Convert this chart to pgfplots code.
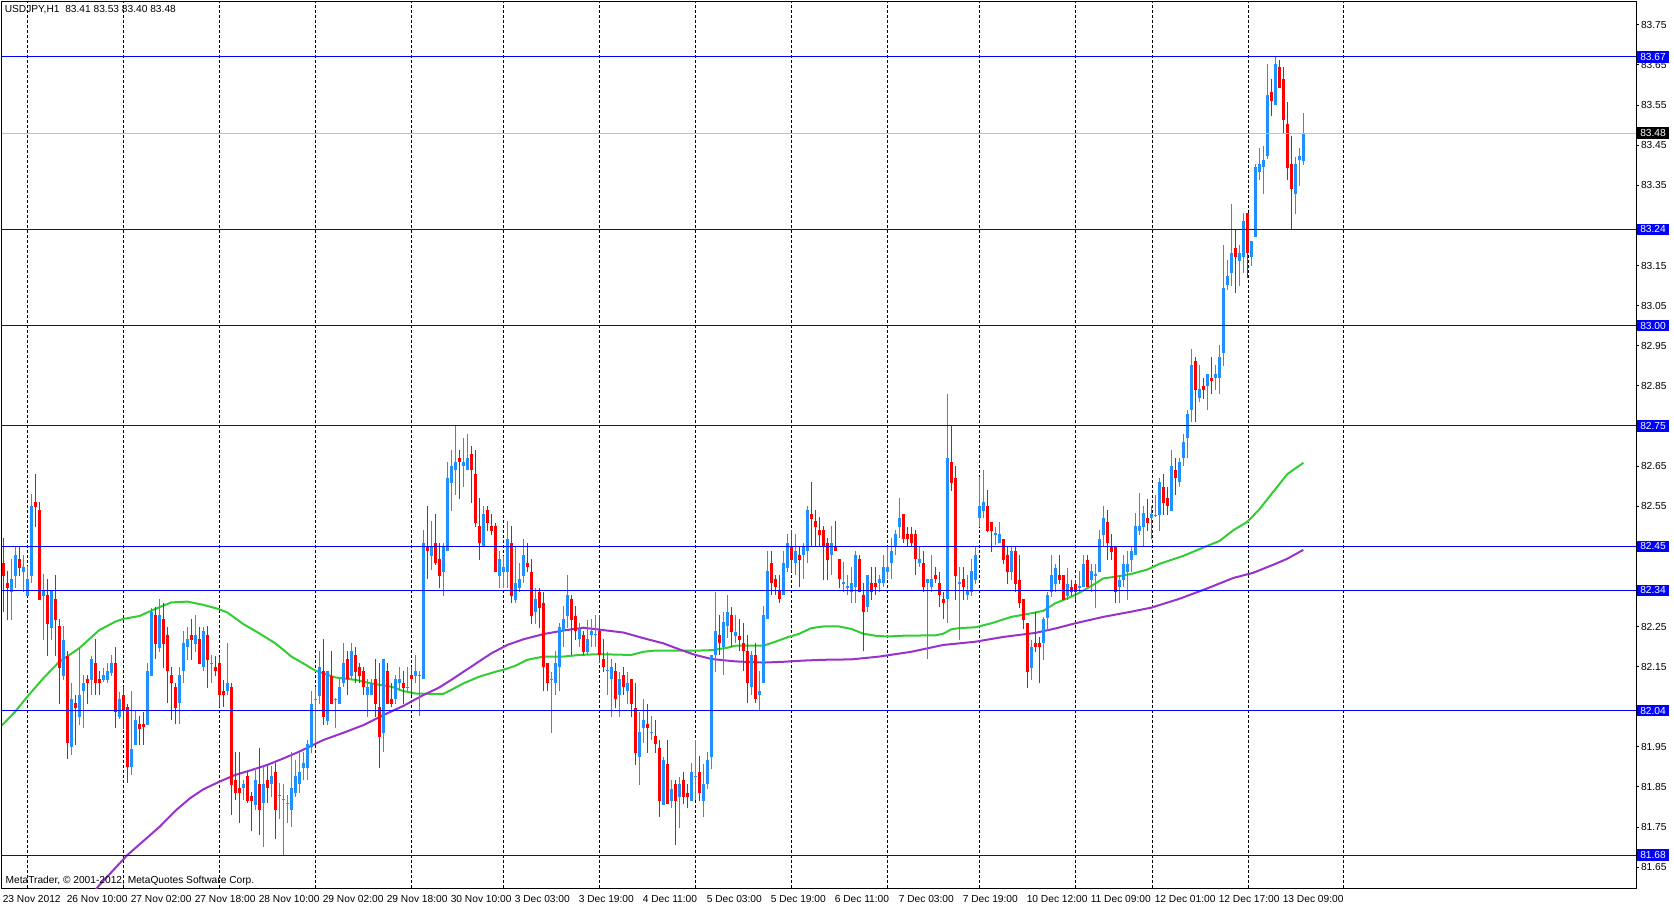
\documentclass[border=0pt]{standalone}
\usepackage{pgfplots}
\usepackage{pgfplotstable}
\pgfplotsset{compat=1.18}
\usepackage{fontspec}
\setmainfont{Liberation Sans}
\definecolor{upc}{RGB}{30,144,255}
\definecolor{dnc}{RGB}{255,0,0}
\definecolor{lineblue}{RGB}{0,0,255}
\definecolor{magreen}{RGB}{50,205,50}
\definecolor{mapurple}{RGB}{153,50,204}
\definecolor{pricegray}{RGB}{192,192,192}
\newcommand{\mtfont}{\fontsize{5.1}{6}\selectfont}

% bullish candles: bar index, open, high, low, close
\pgfplotstableread{
k o h l c
2 82.337 82.418 82.266 82.368
3 82.377 82.449 82.347 82.428
5 82.387 82.428 82.337 82.398
6 82.327 82.401 82.327 82.368
7 82.377 82.58 82.358 82.55
10 82.327 82.38 82.216 82.339
12 82.247 82.339 82.216 82.339
15 82.127 82.25 82.117 82.216
17 81.95 82.108 81.93 82.069
19 82.025 82.196 82.004 82.079
20 82.088 82.129 81.996 82.109
22 82.117 82.177 82.078 82.169
25 82.117 82.147 82.111 82.129
26 82.117 82.158 82.108 82.14
27 82.135 82.179 82.127 82.16
29 82.025 82.087 82.019 82.069
32 81.90 82.089 81.88 81.945
33 81.955 82.039 81.955 82.017
36 82.004 82.159 82.004 82.139
37 82.127 82.297 82.127 82.287
39 82.196 82.319 82.187 82.279
44 82.059 82.15 82.007 82.129
45 82.138 82.24 82.108 82.21
46 82.2 82.248 82.167 82.219
48 82.207 82.279 82.187 82.229
50 82.148 82.248 82.138 82.239
52 82.156 82.179 82.108 82.159
56 82.088 82.208 82.08 82.109
60 81.847 81.867 81.818 81.857
63 81.805 81.896 81.793 81.867
65 81.809 81.901 81.70 81.857
67 81.857 81.901 81.826 81.877
69 81.827 81.859 81.77 81.830
70 81.817 81.857 81.68 81.820
71 81.807 81.83 81.76 81.810
72 81.793 81.938 81.75 81.848
73 81.836 81.917 81.826 81.877
74 81.857 81.934 81.836 81.888
75 81.897 81.938 81.867 81.909
76 81.897 81.967 81.867 81.957
77 81.949 82.089 81.934 82.058
78 82.066 82.1 81.959 82.069
79 82.077 82.19 82.058 82.15
81 82.015 82.139 82.004 82.139
83 82.067 82.071 81.996 82.070
84 82.058 82.118 82.058 82.1
85 82.108 82.21 82.098 82.158
87 82.127 82.21 82.118 82.19
91 82.078 82.118 82.025 82.098
92 82.078 82.118 82.078 82.108
95 81.985 82.169 81.938 82.169
98 82.068 82.129 82.057 82.118
99 82.108 82.15 82.088 82.118
101 82.097 82.15 82.088 82.100
103 82.127 82.179 82.108 82.139
104 82.126 82.139 82.027 82.129
105 82.118 82.491 82.118 82.458
107 82.427 82.512 82.391 82.449
110 82.387 82.459 82.327 82.449
111 82.437 82.661 82.437 82.62
112 82.609 82.69 82.538 82.65
113 82.639 82.75 82.578 82.661
115 82.649 82.721 82.599 82.661
116 82.639 82.73 82.639 82.671
120 82.448 82.551 82.448 82.531
124 82.377 82.437 82.347 82.418
125 82.387 82.427 82.347 82.398
126 82.387 82.512 82.347 82.468
128 82.316 82.449 82.308 82.358
129 82.347 82.408 82.337 82.368
130 82.377 82.468 82.358 82.428
133 82.287 82.347 82.256 82.318
137 82.117 82.137 81.985 82.120
138 82.108 82.19 82.078 82.158
139 82.148 82.258 82.088 82.248
140 82.24 82.3 82.2 82.268
141 82.277 82.379 82.246 82.329
144 82.22 82.258 82.2 82.245
146 82.187 82.266 82.179 82.218
147 82.229 82.268 82.2 82.24
148 82.228 82.279 82.2 82.231
151 82.138 82.187 82.079 82.141
152 82.118 82.168 82.025 82.148
154 82.079 82.137 82.025 82.118
156 82.088 82.137 82.058 82.108
159 81.925 82.038 81.855 81.986
160 81.996 82.068 81.959 82.017
162 81.985 82.027 81.967 81.988
165 81.805 81.925 81.805 81.917
167 81.816 81.867 81.797 81.846
169 81.826 81.876 81.747 81.857
172 81.816 81.909 81.816 81.886
173 81.875 81.967 81.817 81.878
175 81.816 81.906 81.776 81.857
176 81.857 81.938 81.846 81.917
177 81.925 82.179 81.894 82.179
178 82.179 82.337 82.137 82.24
180 82.2 82.287 82.129 82.26
181 82.25 82.329 82.221 82.287
183 82.227 82.279 82.208 82.237
187 82.099 82.188 82.078 82.179
189 82.078 82.139 82.04 82.09
190 82.109 82.3 82.109 82.279
191 82.268 82.439 82.268 82.389
195 82.329 82.439 82.329 82.409
196 82.397 82.48 82.387 82.458
198 82.408 82.48 82.379 82.439
200 82.429 82.459 82.369 82.449
201 82.437 82.551 82.408 82.541
207 82.429 82.501 82.379 82.458
210 82.357 82.41 82.337 82.360
211 82.347 82.379 82.329 82.350
212 82.337 82.399 82.308 82.358
213 82.348 82.439 82.308 82.429
216 82.298 82.379 82.287 82.379
219 82.358 82.379 82.337 82.369
220 82.358 82.429 82.348 82.399
221 82.387 82.449 82.369 82.399
222 82.409 82.47 82.369 82.439
223 82.449 82.491 82.429 82.48
224 82.499 82.57 82.47 82.52
229 82.408 82.449 82.399 82.418
231 82.358 82.368 82.168 82.368
232 82.348 82.429 82.337 82.369
236 82.318 82.83 82.258 82.67
239 82.357 82.399 82.217 82.360
241 82.329 82.379 82.316 82.34
242 82.335 82.418 82.327 82.389
243 82.366 82.449 82.357 82.428
244 82.52 82.623 82.499 82.55
245 82.539 82.64 82.52 82.561
248 82.479 82.499 82.453 82.482
249 82.457 82.511 82.457 82.48
252 82.387 82.449 82.366 82.438
257 82.146 82.216 82.116 82.2
260 82.208 82.274 82.166 82.268
261 82.27 82.337 82.241 82.328
262 82.337 82.428 82.324 82.378
263 82.357 82.407 82.337 82.397
266 82.327 82.397 82.316 82.357
269 82.347 82.389 82.337 82.350
270 82.348 82.428 82.348 82.407
272 82.366 82.407 82.337 82.389
273 82.377 82.407 82.297 82.380
274 82.387 82.49 82.387 82.467
275 82.478 82.55 82.449 82.52
279 82.348 82.378 82.308 82.367
280 82.366 82.428 82.348 82.407
281 82.387 82.438 82.316 82.407
282 82.416 82.449 82.387 82.438
283 82.428 82.532 82.428 82.5
284 82.489 82.582 82.478 82.5
285 82.499 82.55 82.449 82.532
287 82.52 82.551 82.468 82.531
288 82.526 82.579 82.524 82.529
289 82.529 82.619 82.489 82.61
292 82.539 82.691 82.539 82.649
294 82.61 82.669 82.599 82.66
295 82.669 82.73 82.649 82.71
296 82.719 82.79 82.669 82.78
297 82.79 82.943 82.761 82.901
299 82.819 82.901 82.809 82.841
301 82.85 82.879 82.79 82.879
303 82.87 82.901 82.839 82.879
304 82.87 82.951 82.829 82.922
305 82.931 83.202 82.899 83.093
306 83.102 83.163 83.09 83.124
307 83.131 83.303 83.1 83.182
309 83.161 83.202 83.1 83.182
310 83.172 83.281 83.131 83.261
312 83.172 83.211 83.15 83.211
313 83.22 83.404 83.22 83.395
314 83.382 83.443 83.363 83.404
315 83.395 83.447 83.329 83.414
316 83.423 83.653 83.415 83.574
318 83.55 83.672 83.55 83.653
323 83.329 83.421 83.279 83.404
324 83.412 83.443 83.349 83.424
325 83.41 83.53 83.40 83.48
}\uptab

% bearish candles: bar index, open, high, low, close
\pgfplotstableread{
k o h l c
0 82.408 82.47 82.287 82.377
1 82.358 82.388 82.266 82.347
4 82.418 82.449 82.377 82.397
8 82.56 82.63 82.499 82.549
9 82.54 82.56 82.316 82.316
11 82.329 82.368 82.177 82.256
13 82.319 82.378 82.177 82.266
14 82.25 82.269 82.058 82.147
16 82.177 82.19 81.92 81.96
18 82.059 82.079 81.955 82.048
21 82.119 82.129 82.058 82.108
23 82.159 82.219 82.078 82.108
24 82.119 82.139 82.078 82.108
28 82.159 82.199 81.996 82.038
30 82.079 82.1 81.994 82.039
31 82.049 82.058 81.86 81.90
34 82.008 82.028 81.955 81.994
35 82.008 82.038 81.955 82.0
38 82.279 82.299 82.169 82.207
40 82.269 82.308 82.146 82.207
41 82.229 82.248 82.059 82.138
42 82.129 82.15 82.017 82.108
43 82.1 82.11 82.007 82.048
47 82.229 82.269 82.167 82.217
49 82.219 82.248 82.157 82.157
51 82.229 82.25 82.096 82.167
53 82.15 82.177 82.127 82.138
54 82.158 82.175 82.05 82.078
55 82.09 82.117 82.05 82.078
57 82.1 82.109 81.78 81.855
58 81.867 81.938 81.818 81.836
59 81.847 81.938 81.76 81.836
61 81.877 81.888 81.809 81.816
62 81.828 81.838 81.74 81.816
64 81.857 81.946 81.73 81.793
66 81.867 81.905 81.809 81.847
68 81.888 81.909 81.72 81.793
80 82.139 82.219 82.004 82.025
82 82.127 82.19 82.058 82.058
86 82.168 82.19 82.078 82.118
88 82.179 82.2 82.108 82.137
89 82.15 82.158 82.108 82.127
90 82.139 82.15 82.078 82.098
93 82.118 82.169 82.025 82.057
94 82.05 82.158 81.896 81.975
96 82.139 82.158 82.057 82.057
97 82.069 82.108 82.049 82.057
100 82.108 82.139 82.057 82.096
102 82.129 82.15 82.079 82.118
106 82.449 82.551 82.368 82.437
108 82.459 82.531 82.403 82.408
109 82.418 82.459 82.347 82.377
114 82.671 82.69 82.568 82.659
117 82.68 82.7 82.559 82.639
118 82.63 82.69 82.499 82.509
119 82.501 82.57 82.416 82.458
121 82.541 82.551 82.489 82.509
122 82.501 82.531 82.478 82.489
123 82.501 82.509 82.387 82.387
127 82.459 82.501 82.308 82.327
131 82.408 82.459 82.387 82.398
132 82.387 82.418 82.256 82.277
134 82.337 82.347 82.246 82.297
135 82.308 82.337 82.088 82.148
136 82.158 82.158 82.088 82.108
142 82.318 82.329 82.179 82.266
143 82.277 82.3 82.216 82.24
145 82.229 82.24 82.179 82.187
149 82.24 82.279 82.158 82.179
150 82.168 82.218 82.137 82.148
153 82.139 82.158 82.046 82.068
155 82.129 82.148 82.079 82.098
157 82.118 82.118 82.025 82.058
158 82.048 82.108 81.905 81.935
161 82.007 82.058 81.935 81.996
163 81.977 82.017 81.935 81.956
164 81.946 81.967 81.776 81.816
166 81.906 81.967 81.807 81.807
168 81.857 81.867 81.705 81.816
170 81.867 81.886 81.807 81.826
171 81.836 81.857 81.797 81.826
174 81.886 81.927 81.816 81.836
179 82.229 82.279 82.179 82.208
182 82.279 82.298 82.2 82.237
184 82.227 82.269 82.188 82.217
185 82.208 82.258 82.138 82.188
186 82.188 82.229 82.059 82.109
188 82.179 82.208 82.059 82.069
192 82.409 82.439 82.329 82.358
193 82.369 82.379 82.329 82.348
194 82.34 82.379 82.308 82.318
197 82.449 82.491 82.387 82.416
199 82.429 82.449 82.348 82.416
202 82.531 82.611 82.449 82.518
203 82.512 82.541 82.449 82.499
204 82.491 82.522 82.449 82.478
205 82.491 82.501 82.366 82.449
206 82.458 82.47 82.366 82.416
208 82.449 82.512 82.437 82.437
209 82.418 82.418 82.345 82.369
214 82.418 82.429 82.337 82.337
215 82.329 82.358 82.188 82.287
217 82.358 82.399 82.316 82.337
218 82.358 82.399 82.329 82.348
225 82.53 82.53 82.458 82.468
226 82.48 82.499 82.449 82.468
227 82.48 82.499 82.449 82.459
228 82.48 82.491 82.379 82.418
230 82.409 82.439 82.337 82.348
233 82.379 82.399 82.358 82.369
234 82.358 82.387 82.298 82.329
235 82.318 82.337 82.268 82.308
237 82.661 82.749 82.589 82.609
238 82.62 82.651 82.316 82.377
240 82.369 82.399 82.316 82.348
246 82.55 82.59 82.485 82.489
247 82.511 82.511 82.436 82.489
250 82.467 82.467 82.407 82.417
251 82.428 82.449 82.357 82.387
253 82.438 82.449 82.337 82.357
254 82.367 82.428 82.295 82.308
255 82.318 82.318 82.245 82.266
256 82.258 82.258 82.097 82.137
258 82.21 82.287 82.187 82.198
259 82.21 82.225 82.108 82.198
264 82.378 82.428 82.357 82.366
265 82.378 82.378 82.316 82.316
267 82.348 82.367 82.327 82.337
268 82.357 82.367 82.316 82.337
271 82.417 82.428 82.348 82.348
276 82.511 82.54 82.417 82.457
277 82.449 82.48 82.417 82.436
278 82.449 82.449 82.308 82.337
286 82.52 82.569 82.489 82.509
290 82.599 82.629 82.529 82.559
291 82.57 82.599 82.529 82.551
293 82.64 82.669 82.579 82.619
298 82.911 82.922 82.761 82.839
300 82.85 82.87 82.817 82.839
302 82.87 82.922 82.829 82.861
308 83.194 83.242 83.082 83.172
311 83.281 83.281 83.119 83.181
317 83.583 83.614 83.522 83.561
319 83.644 83.663 83.592 83.592
320 83.614 83.644 83.48 83.513
321 83.504 83.557 83.363 83.392
322 83.404 83.474 83.242 83.34
}\dntab

\pgfplotsset{
  wick/.style={draw=none, mark=none, forget plot,
    /pgfplots/error bars/y dir=plus, /pgfplots/error bars/y explicit,
    /pgfplots/error bars/error mark=none,
    /pgfplots/error bars/error bar style={line width=0.5pt, draw=#1, line cap=butt}},
  body/.style={draw=none, mark=none, forget plot,
    /pgfplots/error bars/y dir=plus, /pgfplots/error bars/y explicit,
    /pgfplots/error bars/error mark=none,
    /pgfplots/error bars/error bar style={line width=1.5pt, draw=#1, line cap=butt}},
  lvl/.style={draw=lineblue, line width=0.5pt, mark=none, forget plot},
}

\begin{document}
\begin{tikzpicture}[x=1pt,y=1pt]
\useasboundingbox (0,0) rectangle (837,453);
\begin{axis}[
  at={(1pt,9pt)}, anchor=south west,
  scale only axis, width=817pt, height=443pt,
  xmin=-0.325, xmax=408.175, ymin=81.598, ymax=83.807,
  axis line style={black, line width=0.5pt},
  xtick={6,30,54,78,102,125,149,173,197,221,244,268,287.2,311.2,335},
  xticklabels={},
  xtick style={draw=none},
  xmajorgrids,
  major grid style={black, line width=0.5pt, dash pattern=on 1.5pt off 1pt},
  ytick={81.65,81.75,81.85,81.95,82.05,82.15,82.25,82.35,82.45,82.55,82.65,82.75,82.85,82.95,83.05,83.15,83.25,83.35,83.45,83.55,83.65,83.75},
  yticklabels={81.65,81.75,81.85,81.95,,82.15,82.25,,,82.55,82.65,,82.85,82.95,83.05,83.15,,83.35,83.45,83.55,83.65,83.75},
  ytick pos=right, yticklabel pos=right,
  tick align=outside,
  ytick style={black, line width=0.5pt},
  major tick length=1.5pt,
  yticklabel style={font=\mtfont, anchor=west, inner sep=0.8pt},
  clip=true,
]
% moving averages
\addplot[magreen, line width=1pt, mark=none, forget plot] coordinates {
(-1,81.998) (0,82.007) (3,82.038) (6,82.075) (10,82.121) (14,82.162) (19,82.196) (24,82.241) (28,82.262) (30,82.269) (34,82.276) (36,82.285) (39,82.298) (42,82.31) (46,82.312) (50,82.304) (54,82.293) (56,82.285) (60,82.256) (64,82.233) (68,82.208) (70,82.192) (72,82.175) (75,82.158) (78,82.14) (83,82.123) (88,82.117) (92,82.108) (97,82.10) (100,82.089) (103,82.083) (106,82.082) (110,82.082) (112,82.092) (115,82.108) (119,82.125) (123,82.137) (125,82.142) (128,82.152) (131,82.167) (135,82.175) (140,82.175) (144,82.179) (149,82.181) (157,82.179) (160,82.187) (163,82.19) (174,82.19) (177,82.191) (181,82.197) (183,82.202) (190,82.202) (193,82.212) (196,82.223) (199,82.232) (202,82.246) (205,82.25) (209,82.25) (212,82.244) (215,82.232) (218,82.227) (221,82.225) (225,82.227) (233,82.228) (235,82.232) (237,82.243) (239,82.246) (243,82.248) (247,82.258) (252,82.274) (256,82.281) (260,82.289) (263,82.308) (266,82.32) (269,82.334) (272,82.351) (275,82.37) (278,82.374) (282,82.381) (286,82.392) (289,82.406) (295,82.426) (300,82.447) (304,82.463) (307.5,82.49) (311,82.511) (314,82.542) (317.5,82.586) (321,82.63) (325,82.658)
};
\addplot[mapurple, line width=1pt, mark=none, forget plot] coordinates {
(22,81.58) (24,81.605) (31,81.68) (39,81.75) (43.3,81.793) (46.7,81.822) (50,81.844) (54,81.863) (58,81.88) (62,81.892) (66,81.905) (70,81.921) (74,81.938) (80,81.967) (85,81.985) (90,82.004) (95,82.029) (100,82.052) (105,82.079) (109,82.098) (112,82.117) (117,82.15) (122,82.183) (126,82.204) (130,82.218) (135,82.231) (140,82.24) (145,82.247) (150,82.241) (155,82.235) (160,82.221) (165,82.208) (169,82.193) (173,82.179) (177,82.169) (181,82.165) (183,82.163) (190,82.16) (195,82.162) (200,82.165) (205,82.167) (212,82.168) (219,82.175) (227,82.187) (235,82.204) (243,82.212) (250,82.224) (258,82.234) (263,82.245) (268,82.258) (275,82.274) (282,82.287) (287,82.297) (294,82.319) (301,82.345) (307.5,82.371) (312.5,82.384) (317.5,82.404) (321,82.419) (325,82.441)
};
% candles
\addplot[wick=upc] table[x=k, y=l, y error expr=\thisrow{h}-\thisrow{l}] {\uptab};
\addplot[body=upc] table[x=k, y=o, y error expr=\thisrow{c}-\thisrow{o}] {\uptab};
\addplot[wick=dnc] table[x=k, y=l, y error expr=\thisrow{h}-\thisrow{l}] {\dntab};
\addplot[body=dnc] table[x=k, y=c, y error expr=\thisrow{o}-\thisrow{c}] {\dntab};
% price levels
\addplot[draw=pricegray, line width=0.5pt, mark=none, forget plot] coordinates {(-1,83.48) (410,83.48)};
\addplot[lvl] coordinates {(-1,83.67) (410,83.67)};
\addplot[lvl] coordinates {(-1,83.24) (410,83.24)};
\addplot[lvl] coordinates {(-1,83.00) (410,83.00)};
\addplot[lvl] coordinates {(-1,82.75) (410,82.75)};
\addplot[lvl] coordinates {(-1,82.45) (410,82.45)};
\addplot[lvl] coordinates {(-1,82.34) (410,82.34)};
\addplot[lvl] coordinates {(-1,82.04) (410,82.04)};
\addplot[lvl] coordinates {(-1,81.68) (410,81.68)};
\coordinate (b1) at (axis cs:408.175,83.67);
\coordinate (b2) at (axis cs:408.175,83.48);
\coordinate (b3) at (axis cs:408.175,83.24);
\coordinate (b4) at (axis cs:408.175,83.00);
\coordinate (b5) at (axis cs:408.175,82.75);
\coordinate (b6) at (axis cs:408.175,82.45);
\coordinate (b7) at (axis cs:408.175,82.34);
\coordinate (b8) at (axis cs:408.175,82.04);
\coordinate (b9) at (axis cs:408.175,81.68);
\end{axis}
\tikzset{pbox/.style={anchor=west, fill=lineblue, text=white, font=\mtfont, inner sep=0pt, minimum width=15.6pt, minimum height=5.7pt, xshift=0.5pt}}
\node[pbox] at (b1) {83.67};
\node[pbox, fill=black] at (b2) {83.48};
\node[pbox] at (b3) {83.24};
\node[pbox] at (b4) {83.00};
\node[pbox] at (b5) {82.75};
\node[pbox] at (b6) {82.45};
\node[pbox] at (b7) {82.34};
\node[pbox] at (b8) {82.04};
\node[pbox] at (b9) {81.68};
\node[anchor=west, font=\mtfont, inner sep=0pt] at (2.2,448.2) {USDJPY,H1\ \ 83.41 83.53 83.40 83.48};
\node[anchor=west, font=\mtfont, inner sep=0pt] at (2.6,12.5) {MetaTrader, © 2001-2012, MetaQuotes Software Corp.};
\foreach \t [count=\i from 0] in {23 Nov 2012,26 Nov 10:00,27 Nov 02:00,27 Nov 18:00,28 Nov 10:00,29 Nov 02:00,29 Nov 18:00,30 Nov 10:00,3 Dec 03:00,3 Dec 19:00,4 Dec 11:00,5 Dec 03:00,5 Dec 19:00,6 Dec 11:00,7 Dec 03:00,7 Dec 19:00,10 Dec 12:00,11 Dec 09:00,12 Dec 01:00,12 Dec 17:00,13 Dec 09:00}
  \node[anchor=west, font=\mtfont, inner sep=0pt] at ({1.2+32*\i},3.6) {\t};
\end{tikzpicture}
\end{document}
